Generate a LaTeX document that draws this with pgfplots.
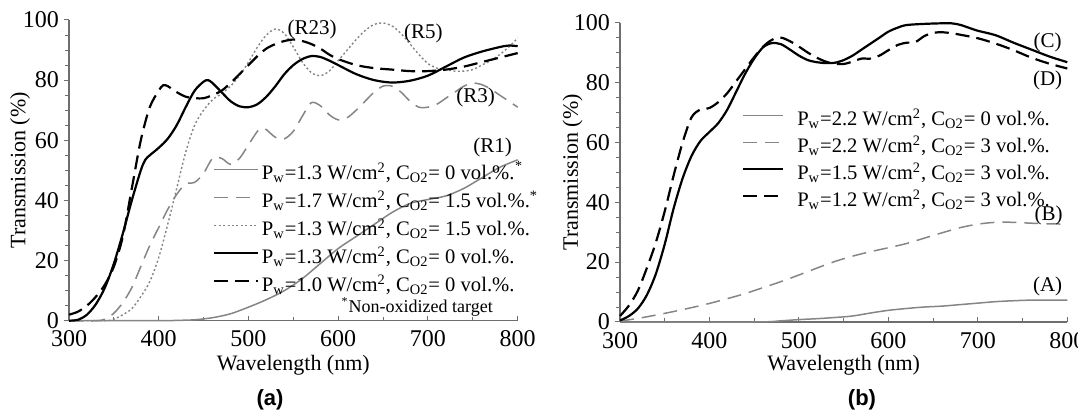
\documentclass[border=0pt]{standalone}
\usepackage{fontspec}
\setmainfont{Liberation Serif}
\newfontfamily\panelfont{Liberation Sans}
\usepackage{pgfplots}
\pgfplotsset{compat=1.18}
\definecolor{curvegray}{HTML}{858585}
\definecolor{axgray}{HTML}{6E6E6E}

\pgfplotsset{
  mystyle/.style={
    scale only axis,
    xmin=300, xmax=800, ymin=0, ymax=100,
    axis x line*=bottom, axis y line*=left,
    axis line style={axgray, line width=0.6pt},
    xtick={300,400,...,800}, ytick={0,20,...,100},
    minor x tick num=1, minor y tick num=3,
    tick style={axgray, line width=0.5pt},
    major tick length=2.5pt, minor tick length=1.8pt,
    tick align=inside,
    every major y tick/.append style={xshift=-2.5pt},
    every minor y tick/.append style={xshift=-1.8pt},
    /pgf/number format/assume math mode=true,
    ticklabel style={font=\fontsize{12}{14}\selectfont},
    yticklabel style={xshift=-1.5pt},
    xticklabel style={yshift=-1.5pt},
    label style={font=\fontsize{11}{13}\selectfont},
    xlabel={Wavelength (nm)}, ylabel={Transmission (\%)},
    clip=false,
    legend style={draw=none, fill=none, inner sep=0pt, outer sep=0pt,
       font=\fontsize{10.3}{12}\selectfont,
       nodes={inner sep=0pt, text height=7.5pt, text depth=2.5pt},
       column sep=0pt},
    legend cell align=left,
  },
  gsolid/.style={curvegray, line width=0.75pt, smooth},
  gdash/.style={curvegray, line width=0.75pt, dash pattern=on 7pt off 4pt, smooth},
  gdot/.style={curvegray, line width=0.7pt, dash pattern=on 1pt off 1.2pt, smooth},
  bsolid/.style={black, line width=1.1pt, smooth},
  bdash/.style={black, line width=1.1pt, dash pattern=on 7pt off 3.5pt, smooth},
}
\newcommand{\lab}{\fontsize{10.5}{12}\selectfont}

\begin{document}
\begin{tikzpicture}
\path[use as bounding box] (0,0) rectangle (539pt,208pt);

% ---------------- panel (a) ----------------
\begin{axis}[mystyle,
  at={(34.5pt,47.65pt)}, anchor=south west,
  width=224.35pt, height=150.35pt,
  ylabel style={at={(axis description cs:-0.109,0.5)}, anchor=center},
  xlabel style={at={(axis description cs:0.5,-0.147)}, anchor=center},
  legend style={at={(axis cs:460.8,52)}, anchor=north west, row sep=4pt},
  legend image code/.code={\draw[#1] (0pt,2.5pt) -- (21.7pt,2.5pt); \path (23.2pt,2.5pt);},
]
\addplot[gsolid] coordinates {(300,0) (400,0) (420,0.1) (440,0.3) (460,1) (480,2.3) (500,4.5) (520,7) (540,10) (560,14) (580,19) (600,24) (620,28) (640,32) (660,36) (680,39) (700,40.3) (720,41.5) (740,44) (760,47.5) (780,51) (800,53.5)};
\addlegendentry{P\textsubscript{w}=1.3 W/cm\textsuperscript{2}, C\textsubscript{O2}= 0 vol.\%.}
\addplot[gdash] coordinates {(300,0) (330,0) (340,0.5) (350,2.5) (360,6) (370,11) (380,18) (390,25) (400,31) (410,37) (420,42) (430,45.5) (440,46) (450,49) (460,54) (470,54) (480,52) (490,54) (500,58.5) (510,63) (515,64) (520,63.5) (530,61) (540,60.5) (550,63) (560,68) (570,72.5) (580,71.5) (590,68.5) (600,66.8) (610,67.5) (620,70) (630,73) (640,76) (650,78) (660,78) (670,76) (680,73) (690,71) (700,71) (710,72) (720,74) (730,76) (740,78) (750,79) (760,78.5) (770,77) (780,75) (790,73) (800,71)};
\addlegendentry{P\textsubscript{w}=1.7 W/cm\textsuperscript{2}, C\textsubscript{O2}= 1.5 vol.\%.\textsuperscript{*}}
\addplot[gdot] coordinates {(300,0) (340,0) (350,0.5) (360,2) (370,4) (380,8) (390,13) (400,21) (410,32) (420,44) (430,56) (440,65) (450,70) (460,73.5) (470,75.5) (480,78) (490,81.5) (500,86) (510,91) (520,95) (530,97) (540,95.5) (550,91) (560,86) (570,82.5) (580,81.5) (590,83) (600,86.5) (610,90) (620,93.5) (630,96.5) (640,98.5) (650,99) (660,98) (670,95.5) (680,92) (690,88.5) (700,85.5) (710,84) (720,83.5) (730,83) (740,83) (750,83.5) (760,85) (770,86.5) (780,88.5) (790,91) (800,94)};
\addlegendentry{P\textsubscript{w}=1.3 W/cm\textsuperscript{2}, C\textsubscript{O2}= 1.5 vol.\%.}
\addplot[bsolid] coordinates {(300,0) (310,0.3) (320,2) (330,5.5) (340,11) (350,19) (360,29) (370,40) (380,50) (385,53.5) (390,55) (400,57.5) (410,60.5) (420,65) (430,71) (440,76.5) (450,79.5) (455,80) (460,79) (470,76) (480,73) (490,71.3) (500,71) (510,72) (520,74.5) (530,78) (540,82) (550,85) (560,87) (570,88) (580,87.7) (590,86.5) (600,85) (620,82) (640,80) (660,79.2) (680,79.8) (700,81.5) (720,84.5) (740,87.5) (760,89.5) (780,91) (790,91.5) (800,91.3)};
\addlegendentry{P\textsubscript{w}=1.3 W/cm\textsuperscript{2}, C\textsubscript{O2}= 0 vol.\%.}
\addplot[bdash] coordinates {(300,2) (310,3) (320,5) (330,8) (340,12) (350,18) (360,28) (370,44) (380,60) (390,71) (400,76.5) (405,78.3) (410,78) (420,76) (430,74.5) (440,74) (450,74) (460,75) (470,76.5) (480,79) (490,82) (500,85) (510,88) (520,90.5) (530,92) (540,93) (550,93.5) (560,93) (570,92) (580,90.5) (590,88.5) (600,87) (620,85) (640,84) (660,83.5) (680,83) (700,83) (720,83.5) (740,84.5) (760,86) (780,87.5) (800,89)};
\addlegendentry{P\textsubscript{w}=1.0 W/cm\textsuperscript{2}, C\textsubscript{O2}= 0 vol.\%.}
\node[font=\lab] at (axis cs:571,97) {(R23)};
\node[font=\lab] at (axis cs:695,95.4) {(R5)};
\node[font=\lab] at (axis cs:753,74.3) {(R3)};
\node[font=\lab] at (axis cs:772,57.7) {(R1)};
\node[font=\fontsize{7}{8}\selectfont, inner sep=0pt] at (axis cs:801,51.5) {*};
\node[font=\fontsize{9}{11}\selectfont] at (axis cs:688,4.6) {\textsuperscript{*}Non-oxidized target};
\end{axis}

% ---------------- panel (b) ----------------
\begin{axis}[mystyle,
  at={(310pt,47pt)}, anchor=south west,
  width=223.65pt, height=149.65pt,
  ylabel style={at={(axis description cs:-0.106,0.5)}, anchor=center},
  xlabel style={at={(axis description cs:0.5,-0.143)}, anchor=center},
  legend style={at={(axis cs:436,70.7)}, anchor=north west, row sep=3.5pt},
  legend image code/.code={\draw[#1] (0pt,2.5pt) -- (20pt,2.5pt); \path (26.7pt,2.5pt);},
]
\addplot[gsolid] coordinates {(300,0) (450,0) (480,0.4) (500,0.8) (520,1.1) (540,1.5) (560,2) (580,3) (600,3.9) (620,4.5) (640,5) (660,5.3) (680,5.8) (700,6.3) (720,6.8) (740,7.1) (760,7.3) (800,7.3)};
\addlegendentry{P\textsubscript{w}=2.2 W/cm\textsuperscript{2}, C\textsubscript{O2}= 0 vol.\%.}
\addplot[gdash] coordinates {(300,0.3) (320,1.2) (340,2.3) (360,3.5) (380,4.8) (400,6.2) (420,7.8) (440,9.5) (460,11.5) (480,13.5) (500,15.7) (520,18) (540,20.2) (560,22) (580,23.5) (600,24.8) (620,26.2) (640,28) (660,29.8) (680,31.5) (700,32.7) (720,33.3) (740,33.3) (760,33) (780,32.8) (800,32.7)};
\addlegendentry{P\textsubscript{w}=2.2 W/cm\textsuperscript{2}, C\textsubscript{O2}= 3 vol.\%.}
\addplot[bsolid] coordinates {(300,0.5) (310,2) (320,4.5) (330,9) (340,16) (350,26) (360,38) (370,48) (380,55.5) (390,60.5) (400,63.5) (410,66.5) (420,71) (430,77) (440,83) (450,88) (460,91.8) (470,93.2) (480,92.8) (490,91) (500,89) (510,87.5) (520,86.8) (530,86.5) (540,86.6) (550,87.5) (560,89) (570,91) (580,93) (590,95) (600,97) (610,98.3) (620,99.2) (640,99.6) (660,99.8) (670,99.8) (680,99.3) (690,98.3) (700,97.3) (720,95.8) (740,93.3) (760,91) (780,88.7) (800,86.8)};
\addlegendentry{P\textsubscript{w}=1.5 W/cm\textsuperscript{2}, C\textsubscript{O2}= 3 vol.\%.}
\addplot[bdash] coordinates {(300,2) (310,5.5) (320,10.5) (330,18) (340,26.5) (350,37) (360,49) (370,60) (380,68.4) (390,71) (400,71.5) (410,73.5) (420,76.5) (430,80.5) (440,84.5) (450,88.5) (460,92) (470,94.3) (480,95) (490,93.8) (500,92) (510,90) (520,88.3) (530,87) (540,86.3) (550,86.2) (560,87) (570,88) (580,88) (590,89) (600,90.8) (610,92.5) (620,93.3) (630,93.5) (640,95.5) (650,96.6) (660,96.8) (670,96.5) (680,96) (700,94.8) (720,93) (740,90.8) (760,88.3) (780,86.3) (800,84.7)};
\addlegendentry{P\textsubscript{w}=1.2 W/cm\textsuperscript{2}, C\textsubscript{O2}= 3 vol.\%.}
\node[font=\lab] at (axis cs:778,93.4) {(C)};
\node[font=\lab] at (axis cs:778,80.7) {(D)};
\node[font=\lab] at (axis cs:779,35.5) {(B)};
\node[font=\lab] at (axis cs:778,11.8) {(A)};
\end{axis}

\node[font=\panelfont\bfseries\fontsize{11}{13}\selectfont] at (135pt,8pt) {(a)};
\node[font=\panelfont\bfseries\fontsize{11}{13}\selectfont] at (431pt,8pt) {(b)};
\end{tikzpicture}
\end{document}
